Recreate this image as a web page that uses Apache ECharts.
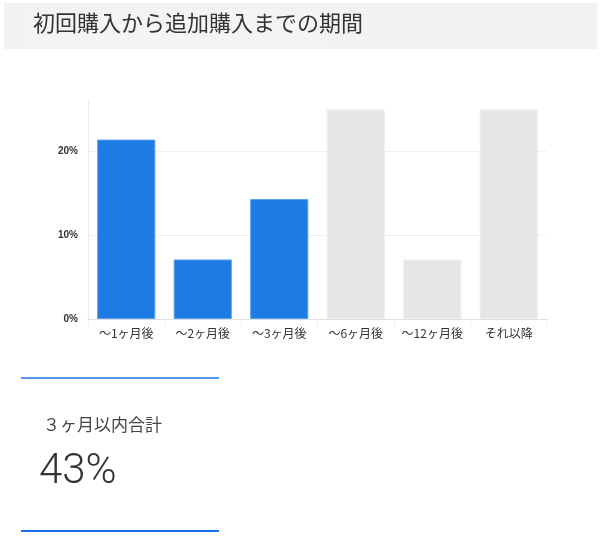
<!DOCTYPE html>
<html>
<head>
<meta charset="utf-8">
<script src="https://cdn.jsdelivr.net/npm/echarts@6/dist/echarts.min.js"></script>
<style>
  html, body { margin: 0; padding: 0; background: #fff; }
  #main { width: 600px; height: 545px; }
</style>
</head>
<body>
<div id="main"></div>
<script>
// データ
var titleText = '初回購入から追加購入までの期間';
var categories = ['〜1ヶ月後', '〜2ヶ月後', '〜3ヶ月後', '〜6ヶ月後', '〜12ヶ月後', 'それ以降'];
var values = [21.4, 7.1, 14.3, 25.0, 7.1, 25.0];
var yMax = 26;
var yStep = 10;
var highlightCount = 3;   // 3ヶ月以内は青
var summaryLabel = '３ヶ月以内合計';
var summaryValue = '43%';

(function(){
  var myChart = echarts.init(document.getElementById('main'));
  var jp = '"Noto Sans CJK JP", "Noto Sans", sans-serif';

  // 3ヶ月以内は青、それ以外はグレー
  var barData = values.map(function(v, i){
    var on = i < highlightCount;
    return {
      value: v,
      itemStyle: {
        color: on ? '#1e7be4' : '#e6e6e6',
        borderColor: on ? '#5a9ff0' : '#eeeeee',
        borderWidth: 1
      }
    };
  });

  var option = {
    animation: false,
    backgroundColor: '#fff',
    grid: {
      left: 88,
      right: 53,
      top: 101,
      bottom: 226
    },
    xAxis: {
      type: 'category',
      data: categories,
      axisLine: {
        lineStyle: { color: '#dcdcdc', type: 'dotted' }
      },
      axisTick: {
        show: true,
        length: 7,
        lineStyle: { color: '#dcdcdc', type: 'dotted' }
      },
      axisLabel: {
        interval: 0,
        margin: 8,
        color: '#333',
        fontSize: 12,
        fontFamily: jp
      }
    },
    yAxis: {
      type: 'value',
      min: 0,
      max: yMax,
      interval: yStep,
      axisLine: {
        show: true,
        lineStyle: { color: '#ececec' }
      },
      axisTick: { show: false },
      axisLabel: {
        showMaxLabel: false,
        formatter: '{value}%',
        margin: 10,
        color: '#333',
        fontSize: 10,
        fontWeight: 'bold',
        fontFamily: '"Liberation Sans", Arial, sans-serif'
      },
      splitLine: {
        showMaxLine: false,
        lineStyle: { color: '#f1f1f1' }
      }
    },
    series: [{
      type: 'bar',
      data: barData,
      barCategoryGap: '24%'
    }],
    graphic: [
      // ヘッダー
      { type: 'rect', shape: { x: 4, y: 3, width: 593, height: 46 }, style: { fill: '#f2f2f2' }, z: 0 },
      { type: 'rect', shape: { x: 23, y: 10, width: 305, height: 37 }, style: { fill: '#f4f4f4' }, z: 1 },
      { type: 'text', left: 33, top: 12, z: 2,
        style: { text: titleText, fill: '#333', font: '22px ' + jp } },
      // まとめ
      { type: 'line', shape: { x1: 21, y1: 378, x2: 219, y2: 378 },
        style: { stroke: '#1a73e8', lineWidth: 1.5 } },
      { type: 'text', left: 43, top: 416,
        style: { text: summaryLabel, fill: '#444', font: '17px ' + jp } },
      { type: 'text', left: 39, top: 451,
        style: { text: summaryValue, fill: '#333', font: '300 42px Roboto, "Noto Sans", sans-serif' } },
      { type: 'line', shape: { x1: 21, y1: 531, x2: 219, y2: 531 },
        style: { stroke: '#1a73e8', lineWidth: 2 } }
    ]
  };

  myChart.setOption(option);
  window.addEventListener('resize', function(){
    myChart.resize();
  });
})();
</script>
</body>
</html>
